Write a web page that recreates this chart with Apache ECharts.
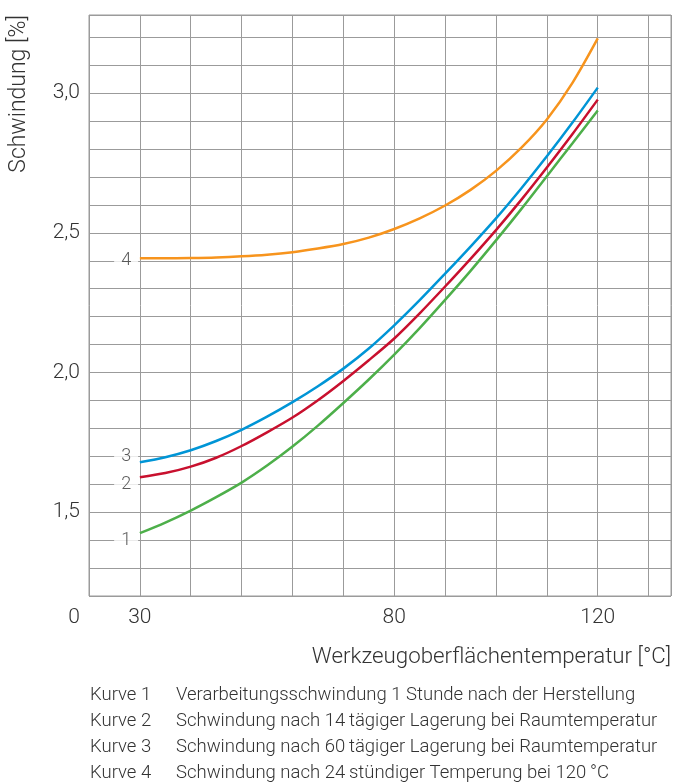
<!DOCTYPE html>
<html><head><meta charset="utf-8">
<script src="https://cdn.jsdelivr.net/npm/echarts@6/dist/echarts.min.js"></script>
<style>html,body{margin:0;padding:0;background:#fff}#c{width:675px;height:783px}</style>
</head><body><div id="c"></div>
<script>
// ---- data ----
const temps = [30, 35, 40, 45, 50, 55, 60, 65, 70, 75, 80, 85, 90, 95, 100, 105, 110, 115, 120];
const kurve1 = [1.425, 1.463, 1.506, 1.554, 1.606, 1.667, 1.735, 1.810, 1.891, 1.975, 2.064, 2.159, 2.260, 2.364, 2.473, 2.586, 2.703, 2.820, 2.938];
const kurve2 = [1.625, 1.640, 1.663, 1.695, 1.737, 1.786, 1.839, 1.901, 1.970, 2.044, 2.122, 2.212, 2.308, 2.407, 2.510, 2.619, 2.734, 2.853, 2.977];
const kurve3 = [1.679, 1.697, 1.722, 1.755, 1.795, 1.842, 1.894, 1.951, 2.014, 2.086, 2.169, 2.259, 2.354, 2.451, 2.552, 2.660, 2.774, 2.894, 3.020];
const kurve4 = [2.409, 2.409, 2.410, 2.412, 2.416, 2.422, 2.431, 2.444, 2.460, 2.483, 2.514, 2.552, 2.598, 2.654, 2.722, 2.805, 2.906, 3.036, 3.196];
const seriesNames = ['Kurve 1', 'Kurve 2', 'Kurve 3', 'Kurve 4'];
const descriptions = [
  'Verarbeitungsschwindung 1 Stunde nach der Herstellung',
  'Schwindung nach 14\u2009tägiger Lagerung bei Raumtemperatur',
  'Schwindung nach 60\u2009tägiger Lagerung bei Raumtemperatur',
  'Schwindung nach 24\u2009stündiger Temperung bei 120\u2009°C'
];
const curveTags = ['1', '2', '3', '4'];
const curveTagLevels = [1.4, 1.6, 1.7, 2.4];
const xTickValues = [20, 30, 80, 120];
const xTickTexts = ['0', '30', '80', '120'];
const yTickValues = [1.5, 2.0, 2.5, 3.0];
const yTickTexts = ['1,5', '2,0', '2,5', '3,0'];
const xAxisTitle = 'Werkzeugoberflächentemperatur [°C]';
const yAxisTitle = 'Schwindung [%]';

// ---- styles ----
const FONT = 'Roboto';
const FW = 300;
const TXT = '#333333';
const GRIDC = '#9b9b9b';
const colors = ['#4daf4a', '#c8102e', '#0095d6', '#f7941d'];
const curves = [kurve1, kurve2, kurve3, kurve4];
const TAG_X = 27.3;

const chart = echarts.init(document.getElementById('c'));
const lineSeries = curves.map((vals, i) => ({
  name: seriesNames[i],
  type: 'line',
  data: temps.map((t, j) => [t, vals[j]]),
  smooth: 0.3,
  showSymbol: false,
  lineStyle: { color: colors[i], width: 2.5 },
  itemStyle: { color: colors[i] },
  z: 3
}));

chart.setOption({
  animation: false,
  grid: { left: 89, right: 4, top: 15, bottom: 187, show: true, borderColor: GRIDC, borderWidth: 1 },
  xAxis: {
    type: 'value', min: 20, max: 134.4, interval: 10,
    axisLine: { show: false }, axisTick: { show: false },
    splitLine: { show: true, lineStyle: { color: GRIDC, width: 1 } },
    axisLabel: {
      margin: 11, color: TXT, fontFamily: FONT, fontWeight: FW, fontSize: 21,
      formatter: v => {
        const k = xTickValues.findIndex(t => Math.abs(t - v) < 1e-6);
        if (k < 0) return '';
        return k === 0 ? '{z|' + xTickTexts[k] + '}' : xTickTexts[k];
      },
      rich: { z: { padding: [0, 30, 0, 0], color: TXT, fontFamily: FONT, fontWeight: FW, fontSize: 21 } }
    },
    name: xAxisTitle, nameLocation: 'end', nameGap: 0,
    nameTextStyle: { align: 'right', verticalAlign: 'top', padding: [50, 0, 0, 0], color: TXT, fontFamily: FONT, fontWeight: FW, fontSize: 22.3 }
  },
  yAxis: {
    type: 'value', min: 1.2, max: 3.28, interval: 0.1,
    axisLine: { show: false }, axisTick: { show: false },
    splitLine: { show: true, lineStyle: { color: GRIDC, width: 1 } },
    axisLabel: {
      margin: 9, color: TXT, fontFamily: FONT, fontWeight: FW, fontSize: 21,
      formatter: v => {
        const k = yTickValues.findIndex(t => Math.abs(t - v) < 1e-6);
        return k < 0 ? '' : yTickTexts[k];
      }
    },
    name: yAxisTitle, nameLocation: 'end', nameGap: 0, nameRotate: 90,
    nameTextStyle: { align: 'right', verticalAlign: 'bottom', padding: [0, 0, 58, 0], color: TXT, fontFamily: FONT, fontWeight: FW, fontSize: 23 }
  },
  legend: {
    data: seriesNames, orient: 'vertical', left: 85, top: 686, padding: 0, height: 97,
    icon: 'none', itemWidth: 0, itemHeight: 18, itemGap: 7, selectedMode: false,
    formatter: n => '{a|' + n + '}{b|' + descriptions[seriesNames.indexOf(n)] + '}',
    textStyle: {
      color: TXT, fontFamily: FONT, fontWeight: FW, fontSize: 18.5, lineHeight: 18,
      rich: {
        a: { width: 86, color: TXT, fontFamily: FONT, fontWeight: FW, fontSize: 18.5, lineHeight: 18 },
        b: { color: TXT, fontFamily: FONT, fontWeight: FW, fontSize: 18.5, lineHeight: 18 }
      }
    }
  },
  series: lineSeries.concat([{
    name: 'tags', type: 'scatter', symbol: 'circle', symbolSize: 2,
    itemStyle: { color: 'rgba(255,255,255,0)' },
    data: curveTags.map((t, i) => ({ value: [TAG_X, curveTagLevels[i]], label: { formatter: t } })),
    label: {
      show: true, position: 'inside', color: TXT, fontFamily: FONT, fontWeight: FW, fontSize: 18,
      backgroundColor: '#ffffff', padding: [2, 7, 2, 7]
    },
    z: 4, silent: true
  }])
});
</script></body></html>
